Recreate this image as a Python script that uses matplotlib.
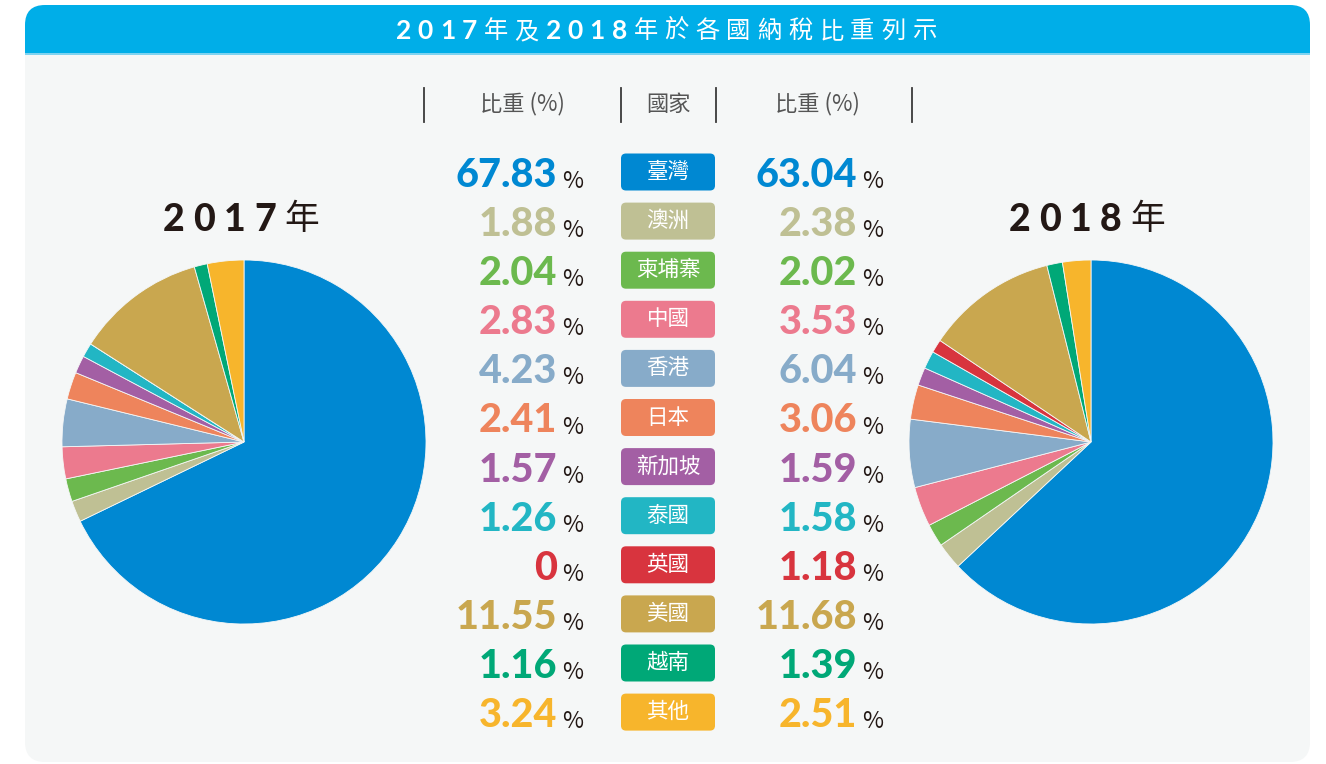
import matplotlib
matplotlib.use("Agg")
import matplotlib.pyplot as plt
from matplotlib.patches import FancyBboxPatch, Rectangle

# ---------------- data ----------------
countries = ["臺灣", "澳洲", "柬埔寨", "中國", "香港", "日本", "新加坡", "泰國", "英國", "美國", "越南", "其他"]
share_2017 = [67.83, 1.88, 2.04, 2.83, 4.23, 2.41, 1.57, 1.26, 0, 11.55, 1.16, 3.24]
share_2018 = [63.04, 2.38, 2.02, 3.53, 6.04, 3.06, 1.59, 1.58, 1.18, 11.68, 1.39, 2.51]
colors = ["#0088d2", "#bfc094", "#6cb94e", "#ec7a8e", "#87abc9", "#ee845c",
          "#a35fa4", "#22b6c4", "#d8343e", "#c9a74f", "#00a877", "#f7b52c"]
title = "2017年及2018年於各國納稅比重列示"
col_header_share = "比重 (%)"
col_header_country = "國家"
year_labels = ["2017年", "2018年"]

W, H = 1326, 764
CJK = ["Noto Sans CJK TC", "DejaVu Sans"]
NUM = ["Lato", "DejaVu Sans"]
BG = "#f5f7f7"
DARK = "#231815"

fig = plt.figure(figsize=(W / 100, H / 100), dpi=100)
fig.patch.set_facecolor("white")
ax = fig.add_axes([0, 0, 1, 1])
ax.set_xlim(0, W)
ax.set_ylim(H, 0)
ax.axis("off")

# panel
ax.add_patch(FancyBboxPatch((25 + 20, 5 + 20), 1285 - 40, 757 - 40,
                            boxstyle="round,pad=20", fc=BG, ec="none", zorder=0))
ax.add_patch(FancyBboxPatch((25 + 20, 5 + 20), 1285 - 40, 10,
                            boxstyle="round,pad=20", fc="#00aee8", ec="none", zorder=1))
ax.add_patch(Rectangle((25, 30), 1285, 23, fc="#00aee8", ec="none", zorder=1))
ax.add_patch(Rectangle((25, 53), 1285, 2, fc="#7fd3f0", ec="none", zorder=1))

renderer = fig.canvas.get_renderer()


def spaced_text(s, xc, y, spacing, digit_kw, cjk_kw, **kw):
    widths = []
    objs = []
    for ch in s:
        extra = digit_kw if ch.isascii() else cjk_kw
        t = ax.text(0, y, ch, ha="left", va="center", **kw, **extra)
        bb = t.get_window_extent(renderer=renderer)
        widths.append(bb.width)
        objs.append(t)
    total = sum(widths) + spacing * (len(s) - 1)
    x = xc - total / 2
    for t, w in zip(objs, widths):
        t.set_x(x)
        x += w + spacing


spaced_text(title, 666, 31, 6.7,
            dict(family=NUM, fontweight="bold", fontsize=19),
            dict(family=CJK, fontweight="normal", fontsize=17.5),
            color="white", zorder=3)

# year labels
for xc, lab in [(241, year_labels[0]), (1087, year_labels[1])]:
    spaced_text(lab, xc, 220, 8.5,
                dict(family=NUM, fontweight="black", fontsize=27),
                dict(family=CJK, fontweight="normal", fontsize=25),
                color=DARK, zorder=3)

# column headers
for x in [424, 621, 716, 912]:
    ax.plot([x, x], [88, 122], color="#3a3a3a", lw=1.3, zorder=3)
hdr_kw = dict(color="#555555", fontsize=16, family=CJK, ha="center", va="center", zorder=3)
ax.text(522, 104, col_header_share, **hdr_kw)
ax.text(668, 104, col_header_country, **hdr_kw)
ax.text(817, 104, col_header_share, **hdr_kw)


def fmt(v):
    return "0" if v == 0 else f"{v:.2f}"


row0, dy = 172, 49.1
for i, (c, v17, v18, col) in enumerate(zip(countries, share_2017, share_2018, colors)):
    y = row0 + i * dy
    # country box
    ax.add_patch(FancyBboxPatch((621 + 5, y - 18.5 + 5), 94 - 10, 37 - 10,
                                boxstyle="round,pad=5", fc=col, ec="none", zorder=2))
    ax.text(668, y, c, color="white", fontsize=15.5, family=CJK, ha="center",
            va="center", zorder=3)
    for xr, v in [(557, v17), (857, v18)]:
        ax.text(xr, y + 15, fmt(v), color=col, fontsize=28.5, fontweight="black",
                family=NUM, ha="right", va="baseline", zorder=3)
        ax.text(xr + 5, y + 16, "%", color=DARK, fontsize=16.5, family=CJK,
                fontweight="normal", ha="left", va="baseline", zorder=3)

# pies
r = 182
for cx, vals in [(244, share_2017), (1091, share_2018)]:
    pax = fig.add_axes([(cx - r) / W, (H - 442 - r) / H, 2 * r / W, 2 * r / H])
    pax.pie(vals, colors=colors, startangle=90, counterclock=False,
            wedgeprops=dict(edgecolor=BG, linewidth=0.6))
    pax.set_xlim(-1, 1)
    pax.set_ylim(-1, 1)
    pax.set_aspect("auto")
    pax.axis("off")

fig.savefig("out.png", dpi=100, facecolor="white")
